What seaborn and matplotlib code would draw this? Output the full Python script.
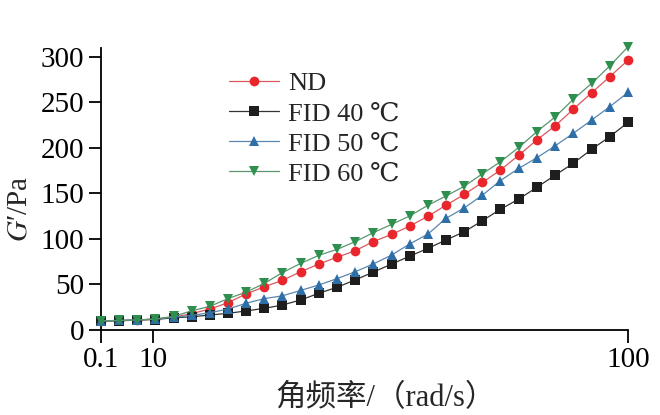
import numpy as np
import pandas as pd
import matplotlib
matplotlib.use("Agg")
import matplotlib.pyplot as plt
import seaborn as sns

# angular frequency (rad/s), 30 points
freq = [0.1, 3.5, 7.0, 10.4, 13.9, 17.3, 20.8, 24.2, 27.6, 31.1,
        34.5, 38.0, 41.4, 44.9, 48.3, 51.7, 55.2, 58.6, 62.1, 65.5,
        69.0, 72.4, 75.8, 79.3, 82.7, 86.2, 89.6, 93.1, 96.5, 100.0]

g_nd = [10, 10.5, 11, 12, 14, 18, 23, 30, 39.5, 47.5,
        54.5, 64, 72.4, 80, 87, 97, 105, 114, 125, 137,
        149, 162, 175.6, 192, 208.6, 224.3, 242.3, 260.5, 278, 296.4]
g_fid40 = [10, 10, 11, 11.5, 13.5, 14.5, 16.5, 18.3, 20.9, 23.8,
           27.4, 33, 40.3, 47, 55, 63.5, 72.4, 81, 89.7, 98.8,
           108, 120, 132.5, 143.8, 156.6, 170.1, 183, 198.4, 212.2, 228]
g_fid50 = [10, 10.5, 11, 12, 14, 16, 19, 23, 29.3, 34.5,
           37.5, 43.5, 49.4, 56.5, 64, 72.4, 82.3, 94.4, 105.4, 122.6,
           134.2, 148, 164, 177.5, 189.1, 202.3, 215.9, 230.5, 245.1, 260.9]
g_fid60 = [10, 10.5, 11, 12, 15, 21, 26, 34.5, 41.5, 51.2,
           63, 73.2, 82, 88.6, 97, 106.8, 116, 125.1, 137, 147.1,
           158, 171.5, 184.7, 200.5, 217.7, 234.1, 253.2, 270.8, 289.8, 311]

labels = ["ND", "FID 40 \u2103", "FID 50 \u2103", "FID 60 \u2103"]
series = [g_nd, g_fid40, g_fid50, g_fid60]
markers = ["o", "s", "^", "v"]
msizes = [7, 6.5, 7.5, 7.5]
mcolors = ["#e8262c", "#1e1e1e", "#2e6fa8", "#2f8f4f"]
lcolors = ["#d9585c", "#333333", "#5a86ad", "#5a9670"]

sns.set_theme(style="white")
plt.rcParams['font.family'] = ['Liberation Serif', 'DejaVu Serif', 'Noto Sans CJK SC']
plt.rcParams['mathtext.fontset'] = 'stix'

fig = plt.figure(figsize=(6.6, 4.15), dpi=100)
ax = fig.add_axes([0.1526, 0.2048, 0.799, 0.6802])

for lab, ys, mk, ms, mc, lc in zip(labels, series, markers, msizes, mcolors, lcolors):
    df = pd.DataFrame({"x": freq, "y": ys})
    sns.lineplot(data=df, x="x", y="y", ax=ax, color=lc, linewidth=0.9,
                 marker=mk, markersize=ms, markerfacecolor=mc,
                 markeredgecolor=mc, markeredgewidth=0, label=lab,
                 clip_on=False, zorder=3)

ax.set_xlim(0.1, 100)
ax.set_ylim(0, 310)
ax.set_xticks([0.1, 10, 100])
ax.set_xticklabels(["0.1", "10", "100"])
ax.set_yticks([0, 50, 100, 150, 200, 250, 300])

sns.despine(ax=ax)
for s in ["left", "bottom"]:
    ax.spines[s].set_color("black")
    ax.spines[s].set_linewidth(1.3)

ax.tick_params(axis="both", direction="out", length=9, width=1.3,
               colors="black", labelsize=21, pad=3, bottom=True, left=True)

ax.set_xlabel("角频率/（rad/s）", fontsize=22)
ax.xaxis.set_label_coords(0.54, -0.19)
ax.set_ylabel(r"$G$′/Pa", fontsize=21)
ax.yaxis.set_label_coords(-0.13, 0.43)

leg = ax.legend(loc="upper left", bbox_to_anchor=(0.243, 0.915), frameon=False,
                fontsize=19, handlelength=1.9, labelspacing=0.25,
                handletextpad=0.35, borderaxespad=0, borderpad=0)
for h, ms in zip(leg.legend_handles, msizes):
    h.set_markersize(ms)

plt.savefig("out.png", dpi=100)
